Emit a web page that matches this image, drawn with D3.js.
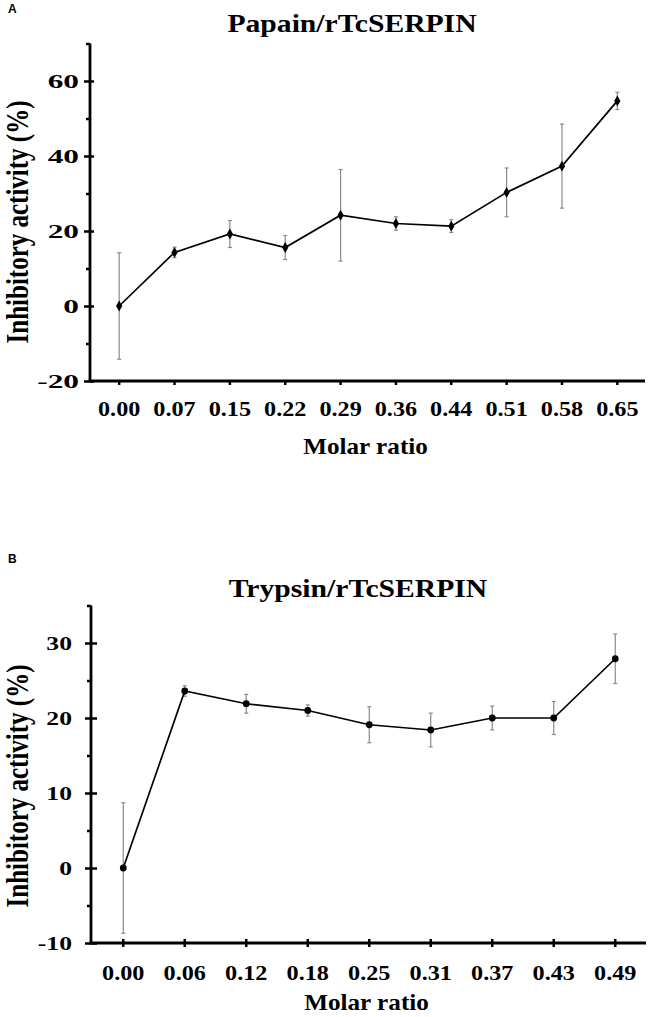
<!DOCTYPE html>
<html>
<head>
<meta charset="utf-8">
<script src="https://cdn.jsdelivr.net/npm/d3@7"></script>
<style>
  body { margin: 0; background: #fff; }
  svg { display: block; }
</style>
</head>
<body>
<svg id="chart" width="649" height="1017"></svg>
<script>
// panel A: papain
const ratiosA = ['0.00', '0.07', '0.15', '0.22', '0.29', '0.36', '0.44', '0.51', '0.58', '0.65'];
const meanA = [0, 14.3, 19.2, 15.6, 24.2, 22.0, 21.3, 30.3, 37.3, 54.7];
const errA = [14.2, 1.4, 3.6, 3.2, 12.2, 1.8, 1.7, 6.5, 11.2, 2.3];
const majorA = [-20, 0, 20, 40, 60];
const minorA = [-10, 10, 30, 50, 70];

// panel B: trypsin
const ratiosB = ['0.00', '0.06', '0.12', '0.18', '0.25', '0.31', '0.37', '0.43', '0.49'];
const meanB = [0, 23.6, 21.9, 21.0, 19.1, 18.4, 20.0, 20.0, 27.9];
const errB = [8.7, 0.7, 1.25, 0.75, 2.4, 2.25, 1.6, 2.2, 3.3];
const majorB = [-10, 0, 10, 20, 30];
const minorB = [-5, 5, 15, 25, 35];

const svg = d3.select('#chart');
const serif = '"Liberation Serif", "Times New Roman", serif';

function drawPanel(p) {
  const g = svg.append('g');

  const x = d3.scaleBand().domain(p.cats).range([p.left + 1.5, p.right]).padding(0);
  const y = d3.scaleLinear().domain(p.yDomain).range([p.bottom, p.top]);
  const cx = d => x(d) + x.bandwidth() / 2;

  // panel letter
  g.append('text')
    .attr('x', 8).attr('y', p.letterY)
    .style('font-family', '"Liberation Sans", Arial, sans-serif')
    .style('font-weight', 'bold').style('font-size', '12px')
    .text(p.letter);

  // title
  g.append('text')
    .attr('transform', `translate(${p.titleX},${p.titleY}) scale(1.14,1)`)
    .attr('text-anchor', 'middle')
    .style('font-family', serif).style('font-weight', 'bold').style('font-size', '26px')
    .text(p.title);

  // minor y ticks (outside only)
  const minor = g.append('g')
    .attr('transform', `translate(${p.left},0)`)
    .call(d3.axisLeft(y).tickValues(p.minor).tickSize(4).tickFormat(''));
  minor.select('.domain').remove();
  minor.selectAll('line').attr('stroke', '#000').attr('stroke-width', 2.5);

  // major y ticks (cross)
  const yAx = g.append('g')
    .attr('transform', `translate(${p.left},0)`)
    .call(d3.axisLeft(y).tickValues(p.major).tickSize(6).tickSizeOuter(0)
      .tickFormat(d => String(d)));
  yAx.select('.domain').remove();
  yAx.selectAll('line').attr('x2', p.yCross).attr('x1', -6)
    .attr('stroke', '#000').attr('stroke-width', 2.5);
  yAx.selectAll('text')
    .attr('x', null).attr('dy', '0.36em')
    .attr('transform', `translate(${p.yLabelOff},0) scale(${p.yLabelSx},1)`)
    .attr('text-anchor', 'end')
    .style('font-family', serif).style('font-weight', 'bold').style('font-size', '19px')
    .attr('fill', '#000');

  // y axis line
  g.append('line')
    .attr('x1', p.left).attr('x2', p.left)
    .attr('y1', p.top).attr('y2', p.bottom)
    .attr('stroke', '#000').attr('stroke-width', 2.8);

  // x axis
  const xAx = g.append('g')
    .attr('transform', `translate(0,${p.bottom})`)
    .call(d3.axisBottom(x).tickSize(p.xTickDown).tickSizeOuter(0));
  xAx.select('.domain').remove();
  xAx.selectAll('line').attr('y1', -p.xTickUp)
    .attr('stroke', '#000').attr('stroke-width', 2.5);
  xAx.selectAll('text')
    .attr('y', null).attr('dy', null)
    .attr('transform', `translate(0,${p.xLabelOff}) scale(1.1,1)`)
    .style('font-family', serif).style('font-weight', 'bold').style('font-size', p.xFont + 'px')
    .attr('fill', '#000');

  g.append('line')
    .attr('x1', p.left - 1.4).attr('x2', p.right)
    .attr('y1', p.bottom).attr('y2', p.bottom)
    .attr('stroke', '#000').attr('stroke-width', 2.8);

  // axis titles
  g.append('text')
    .attr('transform', `translate(${(p.left + p.right) / 2 - 2},${p.xTitleY}) scale(1.05,1)`)
    .attr('text-anchor', 'middle')
    .style('font-family', serif).style('font-weight', 'bold').style('font-size', '24px')
    .text('Molar ratio');

  g.append('text')
    .attr('transform', `translate(${p.yTitleX},${p.yTitleY}) rotate(-90) scale(1,1.3)`)
    .attr('text-anchor', 'middle')
    .attr('dy', '0.35em')
    .style('font-family', serif).style('font-weight', 'bold').style('font-size', '25px')
    .text('Inhibitory activity (%)');

  const pts = p.cats.map((c, i) => ({ c, v: p.mean[i], e: p.err[i] }));

  // error bars
  const eb = g.append('g').attr('stroke', '#8a8a8a').attr('stroke-width', 1.2);
  eb.selectAll('line.v').data(pts).join('line')
    .attr('x1', d => cx(d.c)).attr('x2', d => cx(d.c))
    .attr('y1', d => y(d.v - d.e)).attr('y2', d => y(d.v + d.e));
  eb.selectAll('line.t').data(pts).join('line')
    .attr('x1', d => cx(d.c) - 2).attr('x2', d => cx(d.c) + 2)
    .attr('y1', d => y(d.v + d.e)).attr('y2', d => y(d.v + d.e));
  eb.selectAll('line.b').data(pts).join('line')
    .attr('x1', d => cx(d.c) - 2).attr('x2', d => cx(d.c) + 2)
    .attr('y1', d => y(d.v - d.e)).attr('y2', d => y(d.v - d.e));

  // line
  const line = d3.line().x(d => cx(d.c)).y(d => y(d.v));
  g.append('path').datum(pts)
    .attr('fill', 'none').attr('stroke', '#000').attr('stroke-width', 1.7)
    .attr('d', line);

  // markers
  const sym = d3.symbol().type(p.marker).size(p.markerSize);
  g.selectAll('path.m').data(pts).join('path')
    .attr('transform', d => `translate(${cx(d.c)},${y(d.v)})`)
    .attr('d', sym).attr('fill', '#000');
}

drawPanel({
  letter: 'A', letterY: 13, title: 'Papain/rTcSERPIN', titleX: 352, titleY: 32,
  cats: ratiosA, mean: meanA, err: errA, major: majorA, minor: minorA,
  yDomain: [-20, 70], top: 43.5, bottom: 381, left: 90, right: 645,
  yCross: 4, yLabelOff: -11, yLabelSx: 1.65,
  xTickDown: 4, xTickUp: 0, xLabelOff: 35, xFont: 22,
  xTitleY: 454, yTitleX: 17, yTitleY: 222,
  marker: d3.symbolDiamond, markerSize: 34
});

drawPanel({
  letter: 'B', letterY: 563, title: 'Trypsin/rTcSERPIN', titleX: 358, titleY: 597,
  cats: ratiosB, mean: meanB, err: errB, major: majorB, minor: minorB,
  yDomain: [-10, 35], top: 605.5, bottom: 943, left: 91, right: 646,
  yCross: 6, yLabelOff: -19, yLabelSx: 1.35,
  xTickDown: 4, xTickUp: 4, xLabelOff: 37, xFont: 22,
  xTitleY: 1010, yTitleX: 17, yTitleY: 786,
  marker: d3.symbolCircle, markerSize: 36
});
</script>
</body>
</html>
